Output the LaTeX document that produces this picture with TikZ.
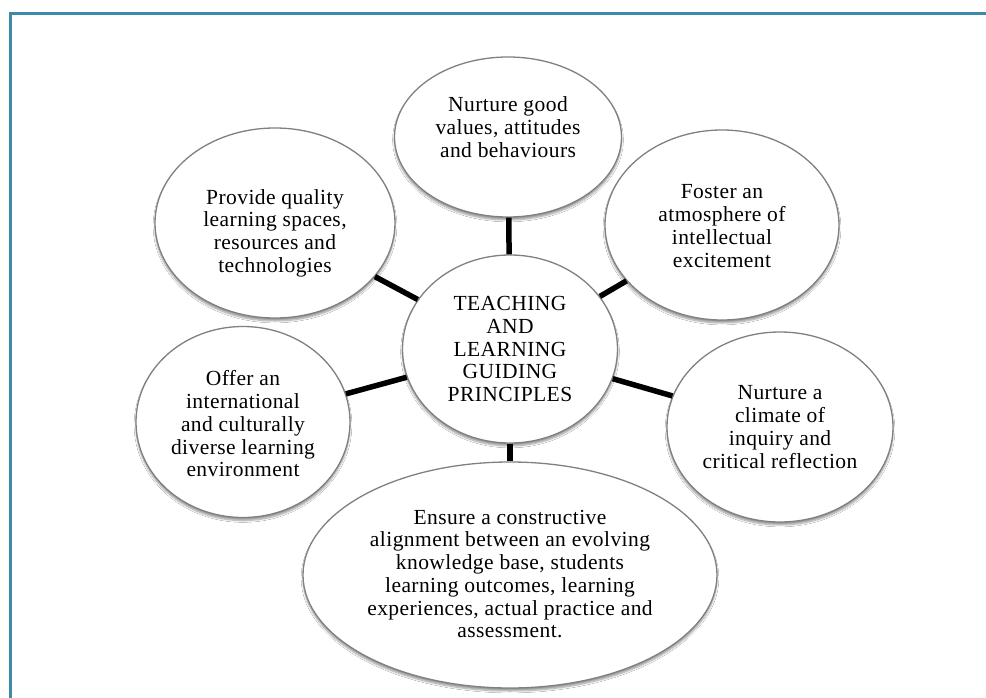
\documentclass[tikz,border=0pt]{standalone}
\usepackage{fontspec}
\setmainfont[LetterSpace=2]{Liberation Serif}
\usetikzlibrary{shapes.geometric,shadows.blur}
\definecolor{framecol}{HTML}{3B8AA6}
\begin{document}
\begin{tikzpicture}[x=1pt,y=-1pt,
  bubble/.style={ellipse,draw=black!50,line width=1.3pt,fill=white,inner sep=0pt,
    blur shadow={shadow xshift=0pt,shadow yshift=-3pt,shadow blur steps=6,shadow opacity=40}},
  caption/.style={align=center,font=\fontsize{21.5}{22.75}\selectfont,inner sep=0pt},
  link/.style={line width=5.5pt,black}]
\useasboundingbox (0,0) rectangle (986,698);
\fill[white] (0,0) rectangle (986,698);
% frame along the top and left
\draw[framecol,line width=2.5pt] (10.5,698) -- (10.5,13.5) -- (986,13.5);

% bubbles
\node[bubble,minimum width=227pt,minimum height=160pt] (top) at (508,137) {};
\node[bubble,minimum width=240pt,minimum height=190pt] (tl) at (275,223) {};
\node[bubble,minimum width=234pt,minimum height=190pt] (tr) at (722,225) {};
\node[bubble,minimum width=214pt,minimum height=191pt] (lf) at (243,422) {};
\node[bubble,minimum width=226pt,minimum height=190pt] (rt) at (780,427) {};
\node[bubble,minimum width=414pt,minimum height=226pt] (bt) at (510,575) {};
\node[bubble,minimum width=215pt,minimum height=188pt] (hub) at (510,349) {};

% spokes
\draw[link] (hub) -- (top);
\draw[link] (hub) -- (tl);
\draw[link] (hub) -- (tr);
\draw[link] (hub) -- (lf);
\draw[link] (hub) -- (rt);
\draw[link] (hub) -- (bt);

% captions
\node[caption] (hubT) at (510,349) {TEACHING\\AND\\LEARNING\\GUIDING\\PRINCIPLES};
\node[caption] (topT) at (508,127) {Nurture good\\values, attitudes\\and behaviours};
\node[caption] (tlT) at (275,233) {Provide quality\\learning spaces,\\resources and\\technologies};
\node[caption] (trT) at (722,226) {Foster an\\atmosphere of\\intellectual\\excitement};
\node[caption] (lfT) at (243,424) {Offer an\\international\\and culturally\\diverse learning\\environment};
\node[caption] (rtT) at (780,427) {Nurture a\\climate of\\inquiry and\\critical reflection};
\node[caption] (btT) at (510,574) {Ensure a constructive\\alignment between an evolving\\knowledge base, students\\learning outcomes, learning\\experiences, actual practice and\\assessment.};
\end{tikzpicture}
\end{document}
